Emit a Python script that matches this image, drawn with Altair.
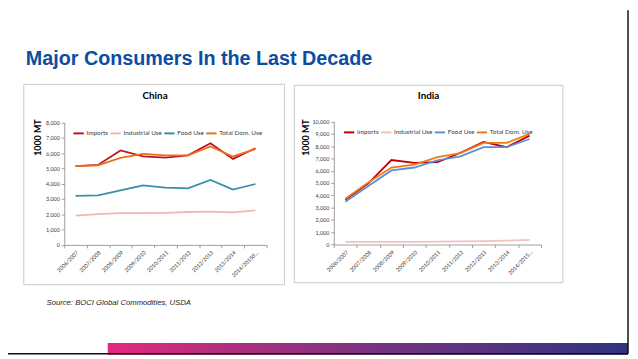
import altair as alt
import pandas as pd

# ---------------- data ----------------
series = ["Imports", "Industrial Use", "Food Use", "Total Dom. Use"]
china_periods = ["2006/2007", "2007/2008", "2008/2009", "2009/2010", "2010/2011",
                 "2011/2012", "2012/2013", "2013/2014", "2014/2015(f…"]
india_periods = ["2006/2007", "2007/2008", "2008/2009", "2009/2010", "2010/2011",
                 "2011/2012", "2012/2013", "2013/2014", "2014/2015…"]

china_imports = [5150, 5230, 6170, 5780, 5700, 5850, 6640, 5620, 6320]
china_industrial = [1910, 2010, 2080, 2080, 2100, 2150, 2170, 2130, 2260]
china_food = [3200, 3230, 3570, 3890, 3740, 3700, 4240, 3610, 3980]
china_total = [5150, 5200, 5680, 5950, 5850, 5850, 6430, 5780, 6260]

india_imports = [3640, 4970, 6870, 6630, 6690, 7460, 8340, 7910, 8850]
india_industrial = [210, 210, 210, 220, 230, 250, 280, 320, 370]
india_food = [3480, 4760, 6020, 6260, 6850, 7170, 7920, 7920, 8580]
india_total = [3720, 5050, 6260, 6500, 7110, 7430, 8260, 8260, 8990]

china_colors = ["#C0141C", "#F3B5B5", "#3A8FA8", "#E8711F"]
india_colors = ["#C00000", "#F4C0C0", "#5B8FDA", "#F07A1A"]

china_ticks = list(range(0, 8001, 1000))
india_ticks = list(range(0, 10001, 1000))


def frame(periods, cols):
    rows = []
    for s, vals in zip(series, cols):
        for p, v in zip(periods, vals):
            rows.append({"period": p, "series": s, "value": v})
    return pd.DataFrame(rows)


china_df = frame(china_periods, [china_imports, china_industrial, china_food, china_total])
india_df = frame(india_periods, [india_imports, india_industrial, india_food, india_total])

W, H = 630, 351
FONT = "Lato"
one = alt.Data(values=[{"k": 1}])
AX = "#868686"


def panel(df, periods, colors, ticks, xr, yr, lx, ly):
    return alt.Chart(df).mark_line(strokeWidth=1.8).encode(
        x=alt.X("period:N", sort=periods,
                scale=alt.Scale(type="band", domain=periods, range=xr,
                                paddingInner=0, paddingOuter=0),
                axis=alt.Axis(orient="bottom", offset=yr[0] - H, title=None,
                              labelAngle=-45, labelFont=FONT, labelFontSize=5.5,
                              labelColor="#404040", labelOverlap=False, labelBound=False,
                              labelFlush=False, labelPadding=2, zindex=1,
                              domainColor=AX, domainWidth=0.8, tickColor=AX,
                              tickWidth=0.8, tickSize=3, tickBand="extent", grid=False)),
        y=alt.Y("value:Q",
                scale=alt.Scale(domain=[ticks[0], ticks[-1]], range=yr, nice=False, zero=True),
                axis=alt.Axis(orient="left", offset=-xr[0], title=None, values=ticks,
                              format=",.0f", labelFont=FONT, labelFontSize=5.5,
                              labelColor="#404040", labelPadding=2, zindex=1,
                              domainColor=AX, domainWidth=0.8, tickColor=AX,
                              tickWidth=0.8, tickSize=3, grid=False, labelOverlap=False,
                              labelBound=False, labelFlush=False)),
        color=alt.Color("series:N",
                        scale=alt.Scale(domain=series, range=colors),
                        legend=alt.Legend(orient="none", legendX=lx,
                                          legendY=ly, direction="horizontal",
                                          title=None, symbolType="stroke", symbolSize=110,
                                          symbolStrokeWidth=2, labelFont=FONT,
                                          labelFontSize=6.5, labelColor="#404040",
                                          labelOffset=1.5, columnPadding=-2.5, padding=0)),
        order=alt.Order("series:N"),
    )


china = panel(china_df, china_periods, china_colors, china_ticks,
              [57, 262], [237.7, 113.7], 65, 118)
india = panel(india_df, india_periods, india_colors, india_ticks,
              [330, 540], [237.3, 112.7], 339, 117)


def box(x, x2, y, y2, stroke="#C8C8C8"):
    return alt.Chart(one).mark_rect(fill=None, filled=False, stroke=stroke,
                                    strokeWidth=1).encode(
        x=alt.value(x), x2=alt.value(x2), y=alt.value(y), y2=alt.value(y2))


def label(text, x, y, size, weight="normal", angle=0, align="center",
          baseline="middle", font=FONT, color="black", style="normal"):
    return alt.Chart(one).mark_text(text=text, font=font, fontSize=size,
                                    fontWeight=weight, angle=angle, align=align,
                                    baseline=baseline, color=color,
                                    fontStyle=style).encode(
        x=alt.value(x), y=alt.value(y))


title = label("Major Consumers In the Last Decade", 18, 55.3, 20, weight="bold",
              align="left", baseline="alphabetic", font="Liberation Sans",
              color="#0B4DA2")
source = label("Source: BOCI Global Commodities, USDA", 39, 298.7, 7.8,
               align="left", baseline="alphabetic", style="italic",
               font="Liberation Sans", color="#222222")

gradient = alt.Chart(one).mark_rect(
    fill=alt.LinearGradient(gradient="linear", x1=0, x2=1, y1=0, y2=0,
                            stops=[alt.GradientStop(offset=0, color="#E22A7E"),
                                   alt.GradientStop(offset=0.5, color="#7A3380"),
                                   alt.GradientStop(offset=1, color="#2F3380")])
).encode(x=alt.value(101), x2=alt.value(628), y=alt.value(337), y2=alt.value(349))

bottom_line = alt.Chart(one).mark_rule(color="#111111", strokeWidth=1.5).encode(
    x=alt.value(0), x2=alt.value(628), y=alt.value(348), y2=alt.value(348))
right_line = alt.Chart(one).mark_rule(color="#111111", strokeWidth=1.5).encode(
    x=alt.value(628), x2=alt.value(628), y=alt.value(0), y2=alt.value(348))

layers = [
    box(16, 280, 75, 278),
    box(290, 562, 76, 276),
    title,
    label("China", 149, 87, 10, weight="bold"),
    label("India", 426, 87, 10, weight="bold"),
    label("1000 MT", 30, 129, 9, weight="bold", angle=270),
    label("1000 MT", 302, 129, 9, weight="bold", angle=270),
    source,
    gradient,
    bottom_line,
    right_line,
    china,
    india,
]

chart = alt.layer(*layers).resolve_scale(
    x="independent", y="independent", color="independent"
).resolve_axis(x="independent", y="independent").resolve_legend(color="independent").properties(
    width=W, height=H, autosize=alt.AutoSizeParams(type="none"), padding=0
).configure_view(stroke=None)

chart.save("out.html", embed_options={"renderer": "svg", "actions": False})
